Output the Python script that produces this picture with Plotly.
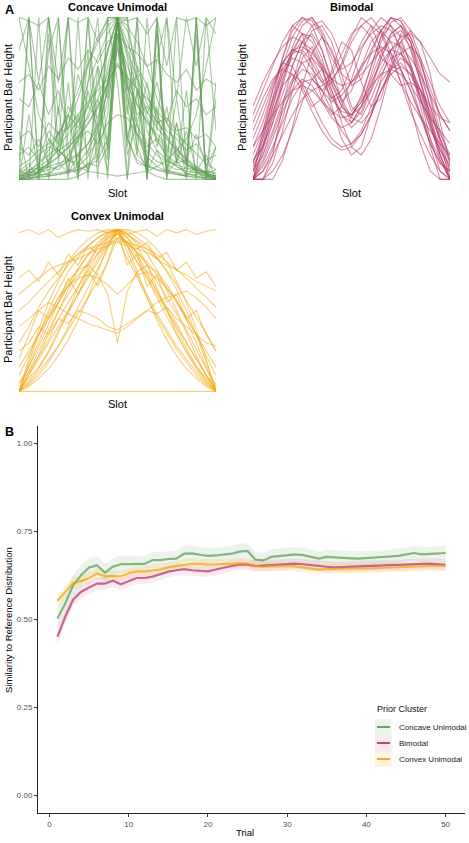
import plotly.graph_objects as go

# ---------------- Panel A data (participant bar heights per slot, 0-100) -------------
slots = list(range(21))

concave_heights = [
    [2,2,3,3,4,5,6,8,12,25,100,25,12,8,6,5,4,3,3,2,2],
    [5,6,7,8,10,12,16,22,32,55,98,57,33,22,15,11,9,7,6,5,4],
    [0,5,10,15,20,28,36,45,60,78,100,80,62,47,36,27,19,13,8,4,0],
    [0,40,3,90,10,60,2,100,30,5,85,20,70,0,95,15,50,8,100,3,60],
    [100,98,95,100,60,100,97,100,85,100,100,98,100,90,100,70,100,98,100,95,100],
    [3,8,15,20,18,12,25,30,22,35,40,38,28,20,25,15,10,12,6,4,2],
    [0,2,5,9,14,20,27,35,45,58,72,58,46,36,28,21,15,10,6,3,1],
    [10,100,5,80,100,20,0,60,100,15,90,40,100,5,75,100,10,55,0,100,30],
    [1,1,2,2,3,4,6,9,15,40,100,45,15,9,6,4,3,2,2,1,1],
    [2,3,4,6,8,11,15,22,35,70,95,100,60,30,18,12,8,5,4,3,2],
    [0,0,0,0,0,0,2,5,20,60,100,60,20,5,2,0,0,0,0,0,0],
    [60,65,55,70,62,75,68,80,72,85,90,82,78,70,74,65,60,68,55,62,58],
    [20,15,25,10,30,5,40,15,50,20,100,25,55,10,45,5,35,12,28,8,20],
    [0,3,8,12,18,22,30,38,50,65,88,70,55,42,32,25,18,12,7,3,0],
    [5,10,0,25,15,40,8,55,30,80,100,75,35,60,20,45,10,30,5,15,0],
    [100,70,40,25,18,12,8,5,4,3,2,3,4,5,8,12,18,25,40,70,100],
    [2,4,6,10,14,20,26,34,44,60,90,64,46,35,26,19,13,9,6,4,2],
    [30,0,100,0,45,0,100,0,70,0,100,0,55,0,100,0,35,0,90,0,20],
    [8,12,18,22,28,32,40,48,55,62,70,63,56,50,42,35,28,22,16,10,6],
    [0,1,1,2,3,5,8,14,25,48,82,50,26,14,8,5,3,2,1,1,0],
    [50,45,60,40,55,30,65,45,70,50,95,55,65,40,60,35,55,45,50,40,45],
    [3,5,4,8,6,12,10,18,30,55,100,52,28,17,11,9,6,7,4,5,3],
    [15,20,12,30,22,45,35,60,75,90,100,92,70,58,40,30,25,18,22,12,15],
    [0,0,2,4,8,15,25,40,58,80,100,78,55,38,24,14,8,4,2,0,0],
    [0,100,0,100,20,100,0,80,0,100,60,0,100,0,90,0,100,10,100,0,50],
    [5,3,8,2,10,4,15,6,30,12,100,15,35,5,18,3,12,2,8,4,6],
    [0,0,5,10,20,35,50,70,85,95,100,95,85,70,50,35,20,10,5,0,0],
    [25,30,20,35,28,40,32,45,38,60,100,62,40,45,35,38,30,32,25,28,20],
    [0,2,4,8,100,6,4,10,8,20,100,25,10,8,100,6,4,2,100,2,0],
    [80,100,60,100,40,100,20,100,10,100,100,100,15,100,30,100,50,100,70,100,90],
    [2,5,10,18,28,40,55,72,88,98,100,85,68,52,38,26,16,9,5,2,1],
]

bimodal_heights = [
    [0,20,45,70,88,98,100,90,70,48,35,45,65,85,97,100,92,75,50,25,5],
    [5,15,30,48,62,72,75,68,55,40,32,38,50,65,75,78,70,55,38,20,8],
    [10,25,45,65,80,90,85,72,58,45,40,48,62,78,90,95,88,72,52,30,12],
    [0,8,20,35,50,60,62,55,42,30,22,28,40,55,68,72,65,50,32,15,0],
    [20,35,55,75,92,100,95,80,60,45,38,52,70,88,100,98,85,65,45,28,15],
    [0,0,10,30,55,75,82,70,45,25,15,20,40,62,80,85,72,50,25,5,0],
    [30,45,60,72,80,82,78,70,62,58,60,65,72,80,85,82,75,65,52,40,30],
    [0,12,28,45,60,68,65,55,48,52,60,70,78,82,78,68,55,40,25,12,0],
    [15,30,50,68,78,80,72,60,50,55,70,85,95,90,75,60,48,38,30,22,15],
    [0,5,15,28,40,50,55,58,62,70,85,95,100,92,78,60,42,28,15,5,0],
    [40,55,70,85,95,100,98,88,75,65,60,68,80,92,100,98,88,72,55,40,30],
    [5,22,42,58,65,60,48,35,25,20,22,30,45,60,70,68,55,38,22,10,5],
    [0,15,35,58,78,90,88,75,55,35,20,15,25,45,68,85,92,85,65,35,10],
    [25,40,58,72,80,78,68,60,65,78,90,95,88,75,70,78,82,75,60,45,35],
    [0,0,5,15,30,48,62,68,62,50,38,35,42,55,68,75,70,55,35,15,0],
    [10,28,48,65,75,72,62,55,60,72,88,100,95,80,65,58,60,55,42,25,10],
    [0,5,18,38,60,80,92,95,85,65,45,40,55,75,90,95,85,62,38,15,2],
    [45,60,72,82,88,85,75,62,50,42,40,45,55,68,80,88,90,85,75,65,60],
    [0,10,25,42,55,62,58,48,38,32,35,45,60,72,80,78,68,52,35,18,5],
    [8,20,38,60,82,95,100,92,78,68,72,82,90,95,92,82,68,50,32,18,8],
    [0,0,0,12,32,58,78,88,80,60,42,50,70,88,95,88,70,45,20,0,0],
    [20,30,40,48,55,58,55,48,42,38,40,48,58,65,68,65,58,48,38,30,22],
    [0,18,40,62,78,85,80,68,52,40,35,42,58,75,88,92,85,68,45,22,0],
    [12,20,35,52,70,85,95,98,90,75,58,62,78,92,100,95,80,60,40,25,12],
    [0,30,55,72,70,58,45,50,68,85,80,60,45,50,72,90,82,60,35,12,0],
    [35,50,62,68,65,55,42,30,22,18,20,28,40,55,65,70,65,55,45,38,35],
    [0,0,15,45,70,85,90,80,62,48,55,70,85,92,85,68,45,22,5,0,0],
    [5,25,50,75,95,90,70,50,40,45,62,80,92,100,95,80,60,40,22,10,5],
]

convex_heights = [
    [0,10,20,30,40,50,60,70,80,90,100,90,80,70,60,50,40,30,20,10,0],
    [0,18,35,50,63,74,83,90,95,99,100,99,95,90,83,74,63,50,35,18,0],
    [5,12,22,32,45,55,65,75,85,93,100,92,83,72,62,52,42,30,20,10,3],
    [0,0,0,0,0,0,0,0,0,0,0,0,0,0,0,0,0,0,0,0,0],
    [98,100,97,100,95,98,100,99,100,98,100,97,99,100,96,100,98,100,97,99,100],
    [30,40,52,62,70,78,85,90,95,98,100,97,93,88,82,75,66,56,46,36,25],
    [0,8,15,25,38,48,60,72,82,92,98,90,80,70,58,46,35,25,15,8,2],
    [60,65,70,75,78,80,82,85,88,90,92,90,88,86,82,78,75,72,68,65,62],
    [0,5,12,20,28,38,48,58,68,80,95,82,70,58,46,36,26,18,10,4,0],
    [20,35,50,45,55,70,60,75,65,80,100,78,85,65,72,55,60,45,50,35,25],
    [0,20,38,55,68,80,88,94,98,100,100,100,98,94,88,80,68,55,38,20,0],
    [40,45,50,55,52,48,45,42,40,38,36,40,45,50,55,58,60,62,58,52,45],
    [0,4,10,18,28,40,52,64,76,88,100,86,72,60,48,38,28,20,12,5,0],
    [10,22,35,48,58,65,70,72,70,66,60,66,72,74,70,64,56,46,35,22,10],
    [0,15,30,46,58,68,75,78,72,60,30,62,74,78,74,66,56,44,30,15,0],
    [70,75,68,80,72,85,78,90,85,95,100,95,88,92,82,86,75,80,70,74,65],
    [0,3,8,14,22,32,44,58,74,90,100,90,74,58,44,32,22,14,8,3,0],
    [15,25,35,45,55,65,72,78,85,90,95,92,86,80,72,64,55,45,35,25,15],
    [0,12,25,38,50,60,70,80,88,96,100,95,85,74,62,50,38,27,16,7,0],
    [25,30,40,35,45,42,50,48,45,40,38,42,46,50,48,52,45,40,35,30,28],
    [0,10,22,36,50,63,75,85,92,97,100,97,92,85,75,63,50,36,22,10,0],
    [50,55,62,68,74,80,85,88,90,92,93,92,90,88,85,80,75,70,64,58,52],
    [0,6,14,24,36,50,64,78,90,98,100,98,90,78,64,50,36,24,14,6,0],
    [5,15,28,42,55,66,76,84,90,95,97,92,86,78,68,58,48,38,26,14,4],
]

# ---------------- Panel B data (similarity to reference by trial) ---------------------
trials = list(range(1, 51))

concave_mean = [0.503,0.546,0.598,0.626,0.648,0.654,0.633,0.650,0.657,0.657,
                0.657,0.658,0.669,0.669,0.672,0.673,0.687,0.688,0.684,0.681,
                0.682,0.685,0.687,0.693,0.695,0.670,0.668,0.678,0.681,0.684,
                0.685,0.683,0.678,0.673,0.678,0.676,0.676,0.674,0.673,0.674,
                0.675,0.676,0.679,0.681,0.684,0.689,0.685,0.686,0.687,0.689]
concave_ci = [0.030,0.032,0.030,0.028,0.027,0.026,0.025,0.024,0.024,0.023,
              0.023,0.022,0.022,0.023,0.022,0.022,0.023,0.022,0.022,0.022,
              0.021,0.022,0.021,0.022,0.022,0.021,0.021,0.022,0.021,0.021,
              0.021,0.021,0.021,0.020,0.021,0.021,0.020,0.021,0.021,0.020,
              0.021,0.020,0.021,0.021,0.020,0.021,0.021,0.020,0.021,0.021]

bimodal_mean = [0.451,0.508,0.557,0.579,0.591,0.602,0.602,0.610,0.600,0.610,
                0.618,0.618,0.622,0.629,0.636,0.640,0.643,0.640,0.638,0.637,
                0.642,0.648,0.652,0.656,0.656,0.652,0.653,0.654,0.655,0.657,
                0.659,0.657,0.654,0.652,0.650,0.648,0.649,0.650,0.651,0.652,
                0.653,0.654,0.654,0.654,0.655,0.656,0.658,0.659,0.657,0.655]
bimodal_ci = [0.022,0.021,0.020,0.019,0.019,0.018,0.018,0.018,0.018,0.017,
              0.017,0.017,0.017,0.017,0.016,0.016,0.017,0.016,0.016,0.016,
              0.016,0.016,0.016,0.016,0.015,0.016,0.016,0.015,0.016,0.016,
              0.015,0.016,0.016,0.015,0.016,0.016,0.015,0.016,0.016,0.015,
              0.016,0.015,0.016,0.016,0.015,0.016,0.016,0.015,0.016,0.016]

convex_mean = [0.553,0.579,0.604,0.609,0.617,0.631,0.623,0.624,0.623,0.631,
               0.637,0.637,0.640,0.642,0.648,0.652,0.657,0.659,0.658,0.656,
               0.657,0.659,0.659,0.660,0.659,0.652,0.650,0.651,0.652,0.652,
               0.651,0.648,0.645,0.642,0.643,0.644,0.644,0.644,0.645,0.645,
               0.646,0.647,0.648,0.648,0.649,0.650,0.651,0.652,0.652,0.652]
convex_ci = [0.020,0.019,0.018,0.017,0.017,0.016,0.016,0.016,0.015,0.015,
             0.015,0.015,0.015,0.015,0.014,0.015,0.015,0.014,0.014,0.015,
             0.014,0.014,0.015,0.014,0.014,0.014,0.015,0.014,0.014,0.014,
             0.014,0.014,0.015,0.014,0.014,0.014,0.014,0.014,0.015,0.014,
             0.014,0.014,0.014,0.014,0.014,0.014,0.014,0.014,0.014,0.014]

cluster_names = ["Concave Unimodal", "Bimodal", "Convex Unimodal"]
x_ticks = [0, 10, 20, 30, 40, 50]
y_ticks = [0.0, 0.25, 0.5, 0.75, 1.0]
y_tick_labels = ["0.00", "0.25", "0.50", "0.75", "1.00"]

# ---------------- styling -------------------------------------------------------------
FONT = "Liberation Sans, Arial, Helvetica, sans-serif"
GREEN = (93, 156, 82)
PINK = (182, 52, 102)
ORANGE = (240, 165, 12)
COLORS = [GREEN, PINK, ORANGE]


def rgba(c, a):
    return f"rgba({c[0]},{c[1]},{c[2]},{a})"


W, H = 469, 843


def px(x):
    return x / W


def py(y):
    return 1 - y / H


def dx(px0, px1):
    return [px(px0), px(px1)]


def dy(py_top, py_bot):
    return [py(py_bot), py(py_top)]


fig = go.Figure()

panelA = [
    ("x", "y", concave_heights, GREEN, dx(19, 216), dy(16, 181)),
    ("x2", "y2", bimodal_heights, PINK, dx(253, 450), dy(16, 181)),
    ("x3", "y3", convex_heights, ORANGE, dx(19, 216), dy(228, 393)),
]

layout_axes = {}
for i, (xa, ya, data, col, xd, yd) in enumerate(panelA):
    for row in data:
        fig.add_trace(go.Scatter(x=slots, y=row, mode="lines", xaxis=xa, yaxis=ya,
                                 line=dict(color=rgba(col, 0.55), width=1.1),
                                 showlegend=False, hoverinfo="skip"))
    sfx = "" if i == 0 else str(i + 1)
    layout_axes["xaxis" + sfx] = dict(domain=xd, range=[0, 20], visible=False,
                                      anchor="y" + sfx)
    layout_axes["yaxis" + sfx] = dict(domain=yd, range=[-1, 101], visible=False,
                                      anchor="x" + sfx)

# Panel B
seriesB = [
    (concave_mean, concave_ci, GREEN, 0.12),
    (bimodal_mean, bimodal_ci, PINK, 0.10),
    (convex_mean, convex_ci, ORANGE, 0.13),
]
for (m, ci, col, fa) in seriesB:
    upper = [a + b for a, b in zip(m, ci)]
    lower = [a - b for a, b in zip(m, ci)]
    fig.add_trace(go.Scatter(x=trials + trials[::-1], y=upper + lower[::-1],
                             xaxis="x4", yaxis="y4", mode="lines",
                             fill="toself", fillcolor=rgba(col, fa),
                             line=dict(width=0), showlegend=False, hoverinfo="skip"))
for (m, ci, col, fa), name in zip(seriesB, cluster_names):
    fig.add_trace(go.Scatter(x=trials, y=m, xaxis="x4", yaxis="y4", mode="lines",
                             name=name, showlegend=False,
                             line=dict(color=rgba(col, 0.72), width=2.2)))

layout_axes["xaxis4"] = dict(
    domain=dx(38, 465), range=[-1.45, 52.45], anchor="y4",
    tickvals=x_ticks, ticks="outside", ticklen=3, tickcolor="#333333",
    showline=True, linecolor="#222222", linewidth=1.1, showgrid=False, zeroline=False,
    tickfont=dict(size=8, color="#4d4d4d", family=FONT),
)
layout_axes["yaxis4"] = dict(
    domain=dy(426, 813), range=[-0.05, 1.05], anchor="x4",
    tickvals=y_ticks, ticktext=y_tick_labels, ticks="outside", ticklen=3,
    tickcolor="#333333", showline=True, linecolor="#222222", linewidth=1.1,
    showgrid=False, zeroline=False,
    tickfont=dict(size=8, color="#4d4d4d", family=FONT),
)

annotations = []


def ann(text, x, y, size, bold=False, angle=0, xanchor="center", yanchor="middle",
        color="#000000"):
    t = f"<b>{text}</b>" if bold else text
    annotations.append(dict(text=t, x=px(x), y=py(y), xref="paper", yref="paper",
                            showarrow=False, textangle=angle, xanchor=xanchor,
                            yanchor=yanchor,
                            font=dict(size=size, color=color, family=FONT)))


ann("A", 3, 10, 12.5, bold=True, xanchor="left")
ann("B", 3, 432, 12.5, bold=True, xanchor="left")
ann(cluster_names[0], 117, 7, 11, bold=True)
ann(cluster_names[1], 351, 7, 11, bold=True)
ann(cluster_names[2], 117, 216, 11, bold=True)
ann("Slot", 117, 193, 11)
ann("Slot", 351, 193, 11)
ann("Slot", 117, 404, 11)
ann("Participant Bar Height", 8, 98, 11, angle=-90)
ann("Participant Bar Height", 242, 98, 11, angle=-90)
ann("Participant Bar Height", 8, 310, 11, angle=-90)
ann("Similarity to Reference Distribution", 8, 620, 9.5, angle=-90)
ann("Trial", 245, 832, 9.5)

# manual legend (ggplot-style keys with ribbon-coloured background)
shapes = []
ann("Prior Cluster", 375, 709, 9, xanchor="left", color="#111111")
row_y = [727, 743, 759]
for col, name, yy, fa in zip(COLORS, cluster_names, row_y, [0.12, 0.10, 0.13]):
    shapes.append(dict(type="rect", xref="paper", yref="paper",
                       x0=px(375), x1=px(391.5), y0=py(yy + 8), y1=py(yy - 8),
                       fillcolor=rgba(col, fa), line=dict(width=0), layer="below"))
    shapes.append(dict(type="line", xref="paper", yref="paper",
                       x0=px(377), x1=px(390), y0=py(yy), y1=py(yy),
                       line=dict(color=rgba(col, 0.9), width=2)))
    ann(name, 396.5, yy, 8, xanchor="left", color="#222222")

fig.update_layout(
    width=W, height=H,
    margin=dict(l=0, r=0, t=0, b=0),
    paper_bgcolor="white", plot_bgcolor="white",
    font=dict(family=FONT),
    annotations=annotations,
    shapes=shapes,
    showlegend=False,
    **layout_axes,
)

fig.write_html("out.html", config={"displayModeBar": False},
               post_script="document.body.style.margin='0';document.body.style.overflow='hidden';")
